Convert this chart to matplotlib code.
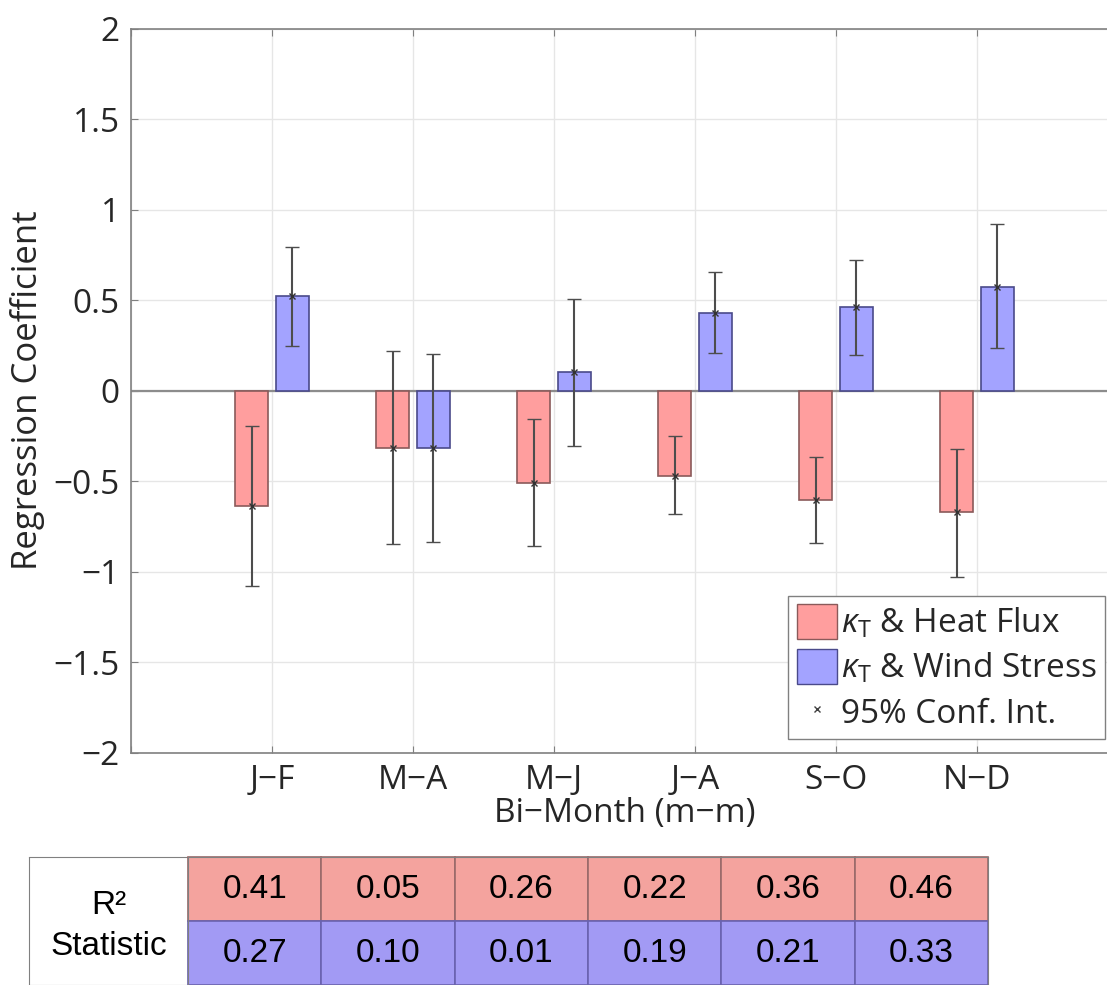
import matplotlib
matplotlib.use('Agg')
import matplotlib.pyplot as plt
from matplotlib.lines import Line2D
from matplotlib.patches import Patch
from matplotlib.ticker import FuncFormatter
import numpy as np

# bi-monthly regression coefficients with 95% confidence bounds
months = ['J\u2212F', 'M\u2212A', 'M\u2212J', 'J\u2212A', 'S\u2212O', 'N\u2212D']
heat = [-0.637, -0.315, -0.51, -0.472, -0.604, -0.672]
heat_lo = [-1.079, -0.845, -0.858, -0.68, -0.84, -1.031]
heat_hi = [-0.194, 0.22, -0.157, -0.25, -0.365, -0.321]
wind = [0.52, -0.315, 0.101, 0.43, 0.46, 0.574]
wind_lo = [0.245, -0.835, -0.304, 0.21, 0.196, 0.235]
wind_hi = [0.795, 0.20, 0.508, 0.655, 0.724, 0.922]

# R^2 table
r2_heat = ['0.41', '0.05', '0.26', '0.22', '0.36', '0.46']
r2_wind = ['0.27', '0.10', '0.01', '0.19', '0.21', '0.33']

plt.rcParams['font.family'] = ['Open Sans', 'DejaVu Sans']
plt.rcParams['mathtext.fontset'] = 'custom'
plt.rcParams['mathtext.rm'] = 'Open Sans'
plt.rcParams['mathtext.it'] = 'Open Sans:italic'

red, red_edge = '#FF9E9E', '#8A5A5A'
blue, blue_edge = '#A3A3FF', '#4A4A8A'
err_col = '#4D4D4D'
txt_col = '#262626'
fs = 24

W, H = 1107, 985
fig = plt.figure(figsize=(W / 100, H / 100), dpi=100)
ax = fig.add_axes([131 / W, 1 - 752.7 / H, 987 / W, 724.2 / H])

x = np.arange(1, len(months) + 1)
off, bw = 0.145, 0.24
ax.bar(x - off, heat, bw, color=red, edgecolor=red_edge, lw=1.2, zorder=3)
ax.bar(x + off, wind, bw, color=blue, edgecolor=blue_edge, lw=1.2, zorder=3)
for xs, v, lo, hi in [(x - off, heat, heat_lo, heat_hi), (x + off, wind, wind_lo, wind_hi)]:
    v = np.array(v)
    ax.errorbar(xs, v, yerr=[v - np.array(lo), np.array(hi) - v], fmt='x', color='#333333',
                ecolor=err_col, elinewidth=1.5, capsize=5, capthick=1.5, ms=5, mew=1, zorder=4)
ax.axhline(0, color='#8C8C8C', lw=1.6, zorder=2)

ax.set_xlim(0, 7)
ax.set_ylim(-2, 2)
ax.set_xticks(range(0, 8))
ax.set_xticklabels([''] + months + [''])
ax.set_yticks(np.arange(-2, 2.01, 0.5))
ax.yaxis.set_major_formatter(FuncFormatter(lambda v, p: ('%g' % v).replace('-', '\u2212')))
ax.grid(True, color='#E6E6E6', lw=1)
ax.set_axisbelow(True)
ax.tick_params(direction='in', length=5, color='#808080', labelsize=fs, labelcolor=txt_col,
               pad=8, top=True, right=True)
for s in ax.spines.values():
    s.set_color('#808080')
    s.set_linewidth(1.2)
ax.set_ylabel('Regression Coefficient', fontsize=fs + 1, color=txt_col, labelpad=6)
ax.set_xlabel('Bi\u2212Month (m\u2212m)', fontsize=fs, color=txt_col, labelpad=0)

handles = [Patch(fc=red, ec=red_edge), Patch(fc=blue, ec=blue_edge),
           Line2D([], [], marker='x', ls='none', color='#404040', ms=5, mew=1)]
labels = [r'$\kappa_\mathrm{T}$ & Heat Flux', r'$\kappa_\mathrm{T}$ & Wind Stress', '95% Conf. Int.']
leg = ax.legend(handles, labels, loc='lower right', fontsize=fs, handlelength=1.2, handleheight=1.25,
                handletextpad=0.12, labelspacing=0.25, borderpad=0.25, borderaxespad=0.4,
                fancybox=False, edgecolor='#808080', framealpha=1)
for t in leg.get_texts():
    t.set_color(txt_col)

# table below the chart
tab_top, tab_bot = 857, 985
hax = fig.add_axes([29 / W, 1 - tab_bot / H, 159 / W, (tab_bot - tab_top) / H])
tax = fig.add_axes([188 / W, 1 - tab_bot / H, 800 / W, (tab_bot - tab_top) / H])
for a in (hax, tax):
    a.set_xticks([])
    a.set_yticks([])
    for s in a.spines.values():
        s.set_linestyle((0, (1, 1)))
        s.set_color('#808080')
        s.set_zorder(20)
hax.text(0.5, 0.62, 'R\u00b2', ha='center', va='center', fontsize=24,
         family='Liberation Sans', color='black', transform=hax.transAxes)
hax.text(0.5, 0.30, 'Statistic', ha='center', va='center', fontsize=24,
         family='Liberation Sans', color='black', transform=hax.transAxes)

tbl = tax.table(cellText=[r2_heat, r2_wind],
                cellColours=[['#F4A39E'] * len(r2_heat), ['#A29AF4'] * len(r2_wind)],
                cellLoc='center', bbox=[0, 0, 1, 1])
tbl.auto_set_font_size(False)
for (r, c), cell in tbl.get_celld().items():
    cell.get_text().set_fontsize(24)
    cell.get_text().set_fontfamily('Liberation Sans')
    cell.set_edgecolor('#9A6A6A' if r == 0 else '#6A62B0')
    cell.set_linewidth(1.2)

fig.savefig('out.png', dpi=100)
